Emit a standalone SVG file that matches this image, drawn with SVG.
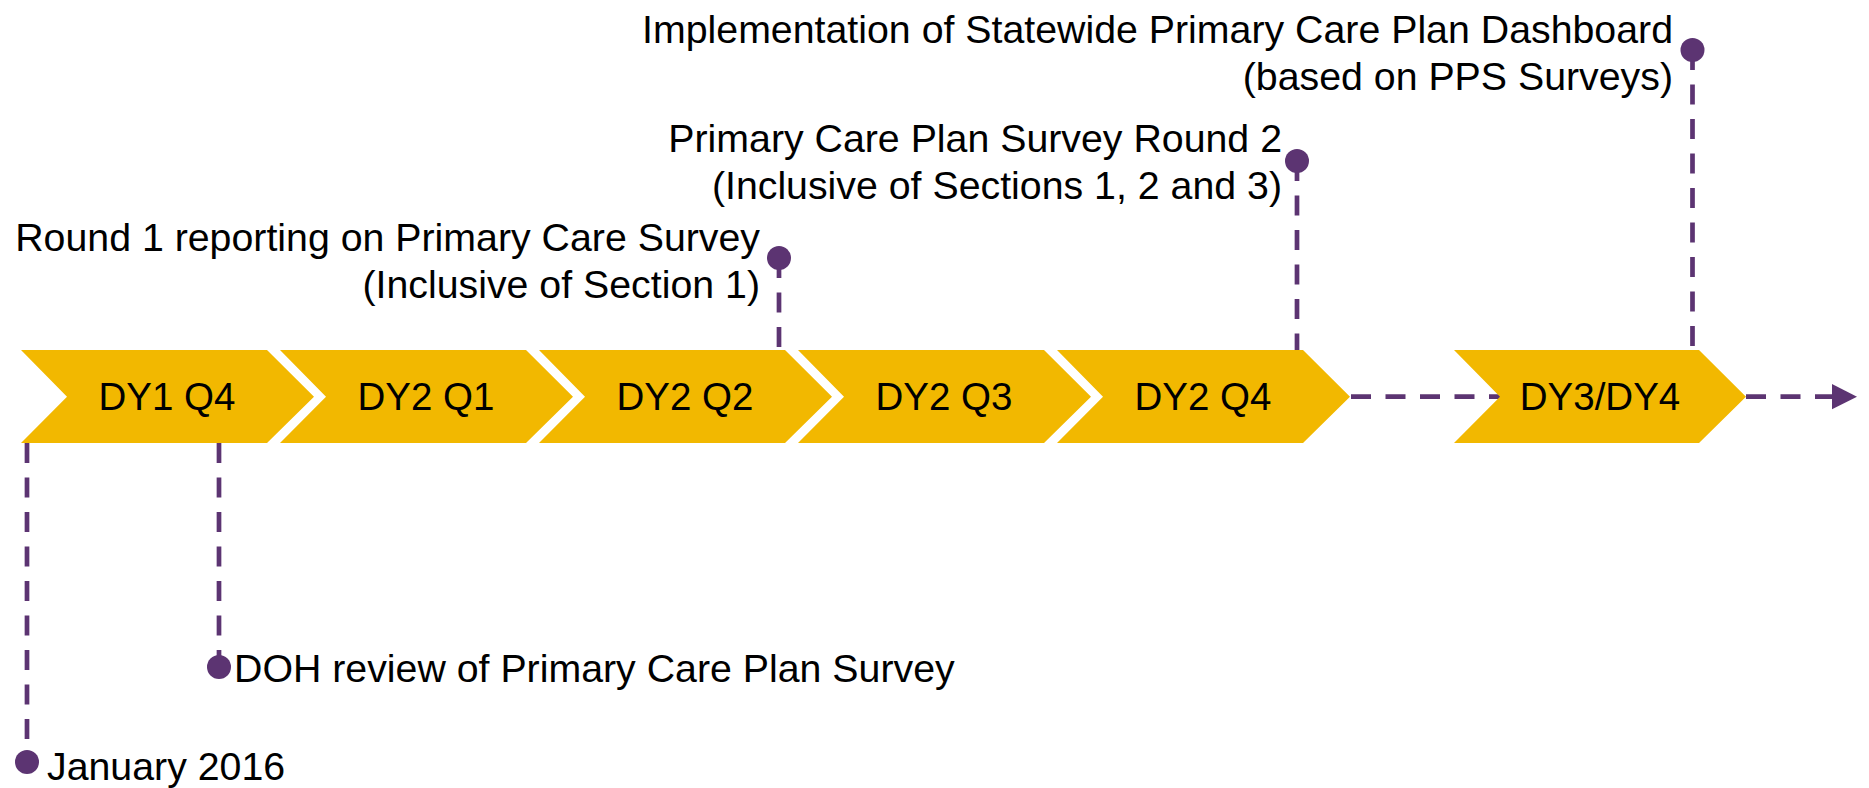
<svg xmlns="http://www.w3.org/2000/svg" width="1869" height="788" viewBox="0 0 1869 788">
<defs>
<style>
.chev{fill:#F2B800;}
.lbl{font-family:"Liberation Sans",Arial,sans-serif;font-size:38.5px;fill:#000;text-anchor:middle;}
.ann{font-family:"Liberation Sans",Arial,sans-serif;font-size:39.3px;fill:#000;}
.end{text-anchor:end;}
.dash{stroke:#5C3472;stroke-width:4.7;stroke-dasharray:20 14.5;fill:none;}
.dot{fill:#5C3472;}
</style>
</defs>
<rect width="1869" height="788" fill="#fff"/>
<g id="connectors">
<line class="dash" x1="1349" y1="396.7" x2="1500" y2="396.7" stroke-dashoffset="-2"/>
<line class="dash" x1="1746" y1="396.7" x2="1833" y2="396.7"/>
<polygon class="dot" points="1832,384 1857,396.7 1832,409.3"/>
<line class="dash" x1="27" y1="443" x2="27" y2="762"/>
<line class="dash" x1="219" y1="443" x2="219" y2="667"/>
<line class="dash" x1="779" y1="258" x2="779" y2="348"/>
<line class="dash" x1="1297" y1="161" x2="1297" y2="350"/>
<line class="dash" x1="1692.5" y1="50" x2="1692.5" y2="347"/>
</g>
<g id="n1"><polygon class="chev" points="21,350 267,350 314,396.7 267,443 21,443 67,396.7"/><text class="lbl" x="167" y="410">DY1 Q4</text></g>
<g id="n2"><polygon class="chev" points="280,350 526,350 573,396.7 526,443 280,443 326,396.7"/><text class="lbl" x="426" y="410">DY2 Q1</text></g>
<g id="n3"><polygon class="chev" points="539,350 785,350 832,396.7 785,443 539,443 585,396.7"/><text class="lbl" x="685" y="410">DY2 Q2</text></g>
<g id="n4"><polygon class="chev" points="798,350 1044,350 1091,396.7 1044,443 798,443 844,396.7"/><text class="lbl" x="944" y="410">DY2 Q3</text></g>
<g id="n5"><polygon class="chev" points="1057,350 1303,350 1350,396.7 1303,443 1057,443 1103,396.7"/><text class="lbl" x="1203" y="410">DY2 Q4</text></g>
<g id="n6"><polygon class="chev" points="1454,350 1699,350 1746,396.7 1699,443 1454,443 1500,396.7"/><text class="lbl" x="1600" y="410">DY3/DY4</text></g>
<g id="m1"><circle class="dot" cx="27" cy="762" r="12"/><text class="ann" x="47" y="780">January 2016</text></g>
<g id="m2"><circle class="dot" cx="219" cy="667" r="12"/><text class="ann" x="234" y="682">DOH review of Primary Care Plan Survey</text></g>
<g id="m3"><circle class="dot" cx="779" cy="258" r="12"/><text class="ann end" x="760" y="251">Round 1 reporting on Primary Care Survey</text><text class="ann end" x="760" y="298">(Inclusive of Section 1)</text></g>
<g id="m4"><circle class="dot" cx="1297" cy="161" r="12"/><text class="ann end" x="1282" y="152">Primary Care Plan Survey Round 2</text><text class="ann end" x="1282" y="199">(Inclusive of Sections 1, 2 and 3)</text></g>
<g id="m5"><circle class="dot" cx="1692.5" cy="50" r="12"/><text class="ann end" x="1673" y="43">Implementation of Statewide Primary Care Plan Dashboard</text><text class="ann end" x="1673" y="90">(based on PPS Surveys)</text></g>
</svg>
